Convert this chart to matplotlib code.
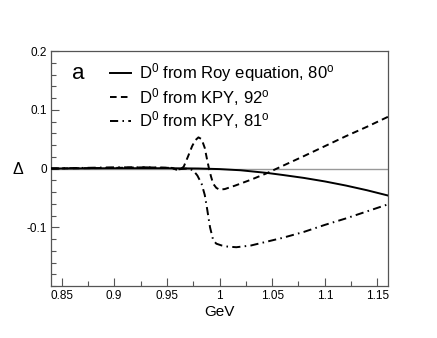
import matplotlib
matplotlib.use("Agg")
import matplotlib.pyplot as plt
from matplotlib.ticker import MultipleLocator, FixedLocator

plt.rcParams['font.family'] = ['Liberation Sans', 'DejaVu Sans']
plt.rcParams['mathtext.fontset'] = 'custom'
plt.rcParams['mathtext.rm'] = 'Liberation Sans'
plt.rcParams['mathtext.it'] = 'Liberation Sans:italic'

# Roy equation, 80 deg
x_roy = [0.84, 0.90, 0.95, 0.98, 1.00, 1.02, 1.045, 1.06, 1.08, 1.10, 1.12, 1.14, 1.16]
y_roy = [0.0, 0.0005, 0.0005, 0.0, -0.001, -0.003, -0.0075, -0.011, -0.016, -0.022, -0.029, -0.037, -0.046]

# KPY, 92 deg
x_k92 = [0.84, 0.90, 0.93, 0.955, 0.959, 0.963, 0.966, 0.970, 0.974, 0.977, 0.980, 0.983,
         0.986, 0.988, 0.990, 0.992, 0.994, 0.997, 1.000, 1.005, 1.015, 1.030, 1.045,
         1.060, 1.080, 1.100, 1.120, 1.140, 1.160]
y_k92 = [0.0, 0.001, 0.002, 0.001, -0.002, -0.001, 0.003, 0.020, 0.038, 0.048, 0.053, 0.050,
         0.035, 0.017, 0.0, -0.014, -0.026, -0.033, -0.036, -0.035, -0.029, -0.019, -0.008,
         0.0045, 0.021, 0.038, 0.055, 0.071, 0.088]

# KPY, 81 deg
x_k81 = [0.84, 0.90, 0.93, 0.955, 0.959, 0.963, 0.970, 0.975, 0.979, 0.983, 0.986, 0.988,
         0.991, 0.994, 0.997, 1.002, 1.008, 1.016, 1.030, 1.060, 1.080, 1.100, 1.120,
         1.140, 1.160]
y_k81 = [0.0, 0.002, 0.002, 0.001, -0.002, -0.001, 0.0, -0.003, -0.012, -0.026, -0.045, -0.066,
         -0.100, -0.122, -0.128, -0.131, -0.133, -0.134, -0.131, -0.118, -0.108, -0.096,
         -0.085, -0.073, -0.061]

labels = [r'D$^{0}$ from Roy equation, 80$^{\rm o}$',
          r'D$^{0}$ from KPY, 92$^{\rm o}$',
          r'D$^{0}$ from KPY, 81$^{\rm o}$']

xticks = [0.85, 0.9, 0.95, 1.0, 1.05, 1.1, 1.15]
xticklabels = ['0.85', '0.9', '0.95', '1', '1.05', '1.1', '1.15']
yticks = [-0.1, 0.0, 0.1, 0.2]
yticklabels = ['-0.1', '0', '0.1', '0.2']

fig = plt.figure(figsize=(4.37, 3.38), dpi=100)
ax = fig.add_axes([51/437, 1 - 286/338, (388-51)/437, (286-51)/338])

ax.axhline(0.0, color='#999999', lw=1.0, zorder=1)
ax.plot(x_roy, y_roy, color='black', lw=1.4, ls='-', label=labels[0], zorder=3)
ax.plot(x_k92, y_k92, color='black', lw=1.4, ls=(0, (3.4, 2.2)), label=labels[1], zorder=3)
ax.plot(x_k81, y_k81, color='black', lw=1.4, ls=(0, (4.2, 2.2, 0.8, 2.2)), label=labels[2], zorder=3)

ax.set_xlim(0.84, 1.16)
ax.set_ylim(-0.2, 0.2)
ax.xaxis.set_major_locator(FixedLocator(xticks))
ax.set_xticklabels(xticklabels)
ax.xaxis.set_minor_locator(MultipleLocator(0.025))
ax.yaxis.set_major_locator(FixedLocator(yticks))
ax.set_yticklabels(yticklabels)
ax.yaxis.set_minor_locator(MultipleLocator(0.02))

for s in ax.spines.values():
    s.set_color('#555555')
    s.set_linewidth(0.9)

ax.tick_params(which='both', direction='in', top=False, right=False,
               color='#555555', labelsize=8.5, labelcolor='black')
ax.tick_params(which='major', length=6, width=0.8, pad=3)
ax.tick_params(which='minor', length=3.5, width=0.8)

ax.set_xlabel('GeV', fontsize=11, labelpad=2)
fig.text(18/437, 1 - 170/338, 'Δ', fontsize=11.5, ha='center', va='center')

leg = ax.legend(loc='upper left', bbox_to_anchor=(0.155, 0.985), frameon=False,
                fontsize=12, handlelength=1.25, handletextpad=0.5,
                labelspacing=0.1, borderaxespad=0.0)
ax.text(0.08, 0.905, 'a', transform=ax.transAxes, fontsize=16, ha='center', va='center')

fig.savefig('out.png', dpi=100)
